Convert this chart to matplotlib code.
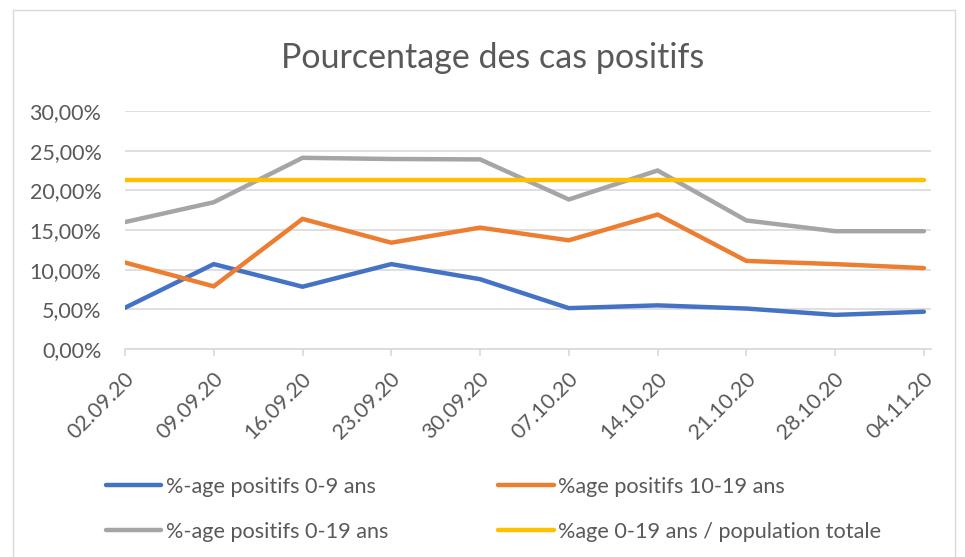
#======================================================================
#   IMPORTS:
#======================================================================

from matplotlib import pyplot as plt
from matplotlib.patches import Rectangle
from matplotlib.ticker import FuncFormatter
from matplotlib.transforms import ScaledTranslation


#======================================================================
#   DATA:
#======================================================================

ls_dates = ['02.09.20', '09.09.20', '16.09.20', '23.09.20', '30.09.20',
            '07.10.20', '14.10.20', '21.10.20', '28.10.20', '04.11.20']

ls_age_0_9 = [5.2, 10.7, 7.85, 10.7, 8.8, 5.15, 5.5, 5.1, 4.3, 4.7]
ls_age_10_19 = [10.9, 7.9, 16.4, 13.4, 15.3, 13.7, 16.95, 11.1, 10.7, 10.2]
ls_age_0_19 = [16.0, 18.5, 24.1, 23.95, 23.9, 18.85, 22.5, 16.2, 14.85, 14.85]
ls_pop_0_19 = [21.3] * len(ls_dates)

ls_labels = ['%-age positifs 0-9 ans', '%age positifs 10-19 ans',
             '%-age positifs 0-19 ans', '%age 0-19 ans / population totale']
ls_colors = ['#4472C4', '#ED7D31', '#A5A5A5', '#FFC000']

s_title = 'Pourcentage des cas positifs'


#======================================================================
#   MAIN:
#======================================================================

if (__name__ == '__main__'):

    plt.rcParams['font.family'] = ['Lato', 'DejaVu Sans']
    txt_col = '#595959'
    grid_col = '#D9D9D9'

    fig = plt.figure(figsize=(9.65, 5.57), dpi=100)
    ax = fig.add_axes([125/965, 1-349/557, (931-125)/965, (349-111)/557])

    # chart border
    fig.patches.append(Rectangle((13/965, -0.01), (955-13)/965, 1.01 - 10/557,
                                 transform=fig.transFigure, fill=False,
                                 edgecolor=grid_col, linewidth=1))

    xs = list(range(len(ls_dates)))
    series = [ls_age_0_9, ls_age_10_19, ls_age_0_19, ls_pop_0_19]
    lines = []
    for vals, lab, col in zip(series, ls_labels, ls_colors):
        ln, = ax.plot(xs, [v/100 for v in vals], color=col, linewidth=3.2,
                      solid_capstyle='round', solid_joinstyle='miter', label=lab)
        lines.append(ln)

    ax.set_xlim(0, 9.08)
    ax.set_ylim(0, 0.30)
    ax.set_yticks([0, 0.05, 0.10, 0.15, 0.20, 0.25, 0.30])
    ax.yaxis.set_major_formatter(FuncFormatter(lambda v, p: ('%.2f%%' % (v*100)).replace('.', ',')))
    ax.set_xticks(xs)
    ax.set_xticklabels(ls_dates, rotation=45, ha='right', va='center',
                       rotation_mode='anchor')

    ax.grid(axis='y', color=grid_col, linewidth=1.2)
    ax.set_axisbelow(True)
    for s in ['top', 'right', 'left']:
        ax.spines[s].set_visible(False)
    ax.spines['bottom'].set_color(grid_col)
    ax.spines['bottom'].set_linewidth(1.2)
    ax.tick_params(axis='y', length=0, pad=17, labelsize=15.5, labelcolor=txt_col)
    ax.tick_params(axis='x', length=5, width=1.2, color=grid_col, pad=14,
                   labelsize=15.5, labelcolor=txt_col)

    # nudge date labels a bit to the right like excel does
    shift = ScaledTranslation(6/100, 0, fig.dpi_scale_trans)
    for lbl in ax.get_xticklabels():
        lbl.set_transform(lbl.get_transform() + shift)

    fig.text(493/965, 1-58/557, s_title, ha='center', va='center',
             fontsize=24.5, color=txt_col)

    # legend, excel order row by row (matplotlib fills columns first)
    order = [0, 2, 1, 3]
    leg = fig.legend([lines[i] for i in order], [ls_labels[i] for i in order],
                     ncol=2, loc='upper left',
                     bbox_to_anchor=(106/965, 1-477/557), frameon=False,
                     fontsize=15.6, handlelength=2.55, handletextpad=0.2,
                     columnspacing=5.1, labelspacing=1.14, borderpad=0,
                     borderaxespad=0)
    for t in leg.get_texts():
        t.set_color(txt_col)

    plt.savefig('out.png', dpi=100)
